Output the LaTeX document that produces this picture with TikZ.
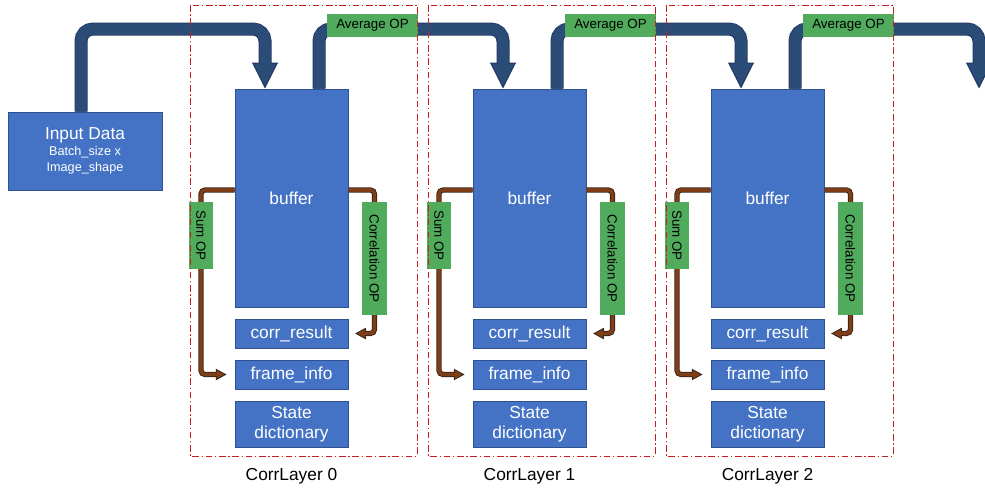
\documentclass[tikz,border=0pt]{standalone}
\usepackage{fontspec}
\setmainfont{Liberation Sans}
\usetikzlibrary{arrows.meta}

\definecolor{boxfill}{RGB}{68,114,196}
\definecolor{boxline}{RGB}{47,82,143}
\definecolor{pipefill}{RGB}{44,76,120}
\definecolor{pipeline}{RGB}{30,54,96}
\definecolor{opgreen}{RGB}{80,172,92}
\definecolor{flowfill}{RGB}{128,62,22}
\definecolor{flowline}{RGB}{52,34,22}
\definecolor{layerred}{RGB}{200,32,32}

\tikzset{every picture/.style={line width=0.75pt}}
\tikzset{
  block/.style={draw=boxline, fill=boxfill, text=white, inner sep=0pt, align=center,
    font=\fontsize{13}{15}\selectfont},
  bufbox/.style={block, minimum width=84.75pt, minimum height=163.5pt},
  slot/.style={block, minimum width=84.75pt, minimum height=21.75pt},
  dictbox/.style={block, minimum width=84.75pt, minimum height=34.5pt},
  oplabel/.style={fill=opgreen, inner sep=0pt, font=\fontsize{10}{11}\selectfont},
  layername/.style={font=\fontsize{13}{15}\selectfont},
  pipe/.style={draw=pipefill, line width=8.25pt, rounded corners=9pt,
    preaction={draw=pipeline, line width=9.75pt, shorten >=17pt, -},
    postaction={draw=pipefill, line width=8.25pt, shorten >=17pt, -},
    -{Triangle[length=19.5pt, width=19.5pt, line width=0.75pt, color=pipeline, fill=pipefill]}},
  flow/.style={draw=flowfill, line width=2.4pt, rounded corners=3pt,
    preaction={draw=flowline, line width=3.9pt, shorten >=5pt, -},
    postaction={draw=flowfill, line width=2.4pt, shorten >=5.5pt, -},
    -{Triangle[length=8pt, width=8.5pt, line width=0.6pt, color=flowline, fill=flowfill]}},
  layerbox/.style={draw=layerred, dash pattern=on 5pt off 2pt on 1pt off 2pt},
}

\begin{document}
\begin{tikzpicture}[x=0.75pt,y=0.75pt,yscale=-1,xscale=1]
\useasboundingbox (0,0) rectangle (985,487);

%Shape: Input block
\node[block, minimum width=115.5pt, minimum height=58.5pt, font=\fontsize{9.5}{12}\selectfont] (inp) at (85,151)
  {{\fontsize{13}{16}\selectfont Input Data}\\Batch\_size x\\Image\_shape};

%Shapes: CorrLayer 0
\node[bufbox] (buf0) at (291.5,198) {buffer};
\node[slot] (res0) at (291.5,333.5) {corr\_result};
\node[slot] (frm0) at (291.5,374.5) {frame\_info};
\node[dictbox] (dic0) at (291.5,424) {State\\dictionary};
%Shapes: CorrLayer 1
\node[bufbox] (buf1) at (529.5,198) {buffer};
\node[slot] (res1) at (529.5,333.5) {corr\_result};
\node[slot] (frm1) at (529.5,374.5) {frame\_info};
\node[dictbox] (dic1) at (529.5,424) {State\\dictionary};
%Shapes: CorrLayer 2
\node[bufbox] (buf2) at (767.5,198) {buffer};
\node[slot] (res2) at (767.5,333.5) {corr\_result};
\node[slot] (frm2) at (767.5,374.5) {frame\_info};
\node[dictbox] (dic2) at (767.5,424) {State\\dictionary};

% bends of the pipes and of the side flows
\coordinate (in0) at (265,29);
\coordinate (in1) at (503,29);
\coordinate (in2) at (741,29);
\coordinate (in3) at (979,29);
\coordinate (out0) at (319,29);
\coordinate (out1) at (557,29);
\coordinate (out2) at (795,29);
\coordinate (s0) at (201,235.5);
\coordinate (s1) at (439,235.5);
\coordinate (s2) at (677,235.5);
\coordinate (c0) at (374.5,258.5);
\coordinate (c1) at (612.5,258.5);
\coordinate (c2) at (850.5,258.5);

%Pipes between the buffers
\draw[pipe] ([xshift=-3pt]inp.north) |- (in0) -- (buf0.north -| in0);
\draw[pipe] (buf0.north -| out0) -- (out0) -- (in1) -- (buf1.north -| in1);
\draw[pipe] (buf1.north -| out1) -- (out1) -- (in2) -- (buf2.north -| in2);
\draw[pipe] (buf2.north -| out2) -- (out2) -- (in3) -- (in3 |- buf2.north);

%Side flows
\draw[flow] ([yshift=-6pt]buf0.west) -| (s0) |- ([xshift=-6pt]frm0.west);
\draw[flow] ([yshift=-6pt]buf0.east) -| (c0) |- ([xshift=5pt]res0.east);
\draw[flow] ([yshift=-6pt]buf1.west) -| (s1) |- ([xshift=-6pt]frm1.west);
\draw[flow] ([yshift=-6pt]buf1.east) -| (c1) |- ([xshift=5pt]res1.east);
\draw[flow] ([yshift=-6pt]buf2.west) -| (s2) |- ([xshift=-6pt]frm2.west);
\draw[flow] ([yshift=-6pt]buf2.east) -| (c2) |- ([xshift=5pt]res2.east);

% Text Node: operation labels
\node[oplabel, minimum width=68.25pt, minimum height=17.25pt] (avg0) at (372.5,25.5) {Average OP};
\node[oplabel, minimum width=68.25pt, minimum height=17.25pt] (avg1) at (610.5,25.5) {Average OP};
\node[oplabel, minimum width=68.25pt, minimum height=17.25pt] (avg2) at (848.5,25.5) {Average OP};
\node[oplabel, rotate=-90, minimum width=50.25pt, minimum height=18pt] (sum0) at (s0) {Sum OP};
\node[oplabel, rotate=-90, minimum width=50.25pt, minimum height=18pt] (sum1) at (s1) {Sum OP};
\node[oplabel, rotate=-90, minimum width=50.25pt, minimum height=18pt] (sum2) at (s2) {Sum OP};
\node[oplabel, rotate=-90, minimum width=84.75pt, minimum height=18.75pt] (cor0) at (c0) {Correlation OP};
\node[oplabel, rotate=-90, minimum width=84.75pt, minimum height=18.75pt] (cor1) at (c1) {Correlation OP};
\node[oplabel, rotate=-90, minimum width=84.75pt, minimum height=18.75pt] (cor2) at (c2) {Correlation OP};

%Shape: layer frames
\draw[layerbox] (190,5) rectangle (417,456);
\draw[layerbox] (428,5) rectangle (655,456);
\draw[layerbox] (666,5) rectangle (893,456);

% Text Node: layer names
\node[layername] (name0) at (291.5,476) {CorrLayer 0};
\node[layername] (name1) at (529.5,476) {CorrLayer 1};
\node[layername] (name2) at (767.5,476) {CorrLayer 2};

\end{tikzpicture}
\end{document}
